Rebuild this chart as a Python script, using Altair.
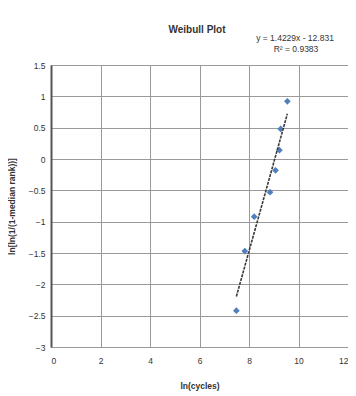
import altair as alt
import pandas as pd

# Data
ln_cycles = [7.49, 7.83, 8.21, 8.85, 9.07, 9.23, 9.28, 9.55]
lnln_rank = [-2.42, -1.47, -0.92, -0.53, -0.18, 0.14, 0.48, 0.92]
x_ticks = [0, 2, 4, 6, 8, 10, 12]
y_ticks = [-3, -2.5, -2, -1.5, -1, -0.5, 0, 0.5, 1, 1.5]
eq_lines = ["y = 1.4229x - 12.831", "R² = 0.9383"]
chart_title = "Weibull Plot"

df = pd.DataFrame({"x": ln_cycles, "y": lnln_rank})

FONT = "Liberation Sans"

xscale = alt.Scale(domain=[0, 12], nice=False, zero=False)
yscale = alt.Scale(domain=[-3, 1.5], nice=False, zero=False)

xaxis = alt.Axis(
    values=x_ticks,
    format="~g",
    title="ln(cycles)",
    titleY=38,
    titleBaseline="middle",
    labelPadding=9,
    labelOverlap=False,
)
yaxis = alt.Axis(
    values=y_ticks,
    format="~g",
    title="ln[ln(1/(1-median rank))]",
    titleX=-40,
    titleY=141,
    titleAngle=-90,
    titleAlign="center",
    titleBaseline="middle",
    labelPadding=6,
    labelFlush=False,
    labelOverlap=False,
)

base = alt.Chart(df)

points = base.mark_point(
    shape="diamond", filled=True, size=45, color="#4F7FBD", opacity=1
).encode(
    x=alt.X("x:Q", scale=xscale, axis=xaxis),
    y=alt.Y("y:Q", scale=yscale, axis=yaxis),
)

trend = base.transform_regression("x", "y").mark_line(
    color="#3a3a3a", strokeWidth=1.6, strokeDash=[3, 1]
).encode(
    x=alt.X("x:Q", scale=xscale, axis=xaxis),
    y=alt.Y("y:Q", scale=yscale, axis=yaxis),
)

title_df = pd.DataFrame({"t": [chart_title]})
title_text = alt.Chart(title_df).mark_text(
    font=FONT, fontSize=10, fontWeight="bold", color="#333333",
    align="center", baseline="middle",
).encode(text="t:N", x=alt.value(146), y=alt.value(-35))

eq1 = alt.Chart(pd.DataFrame({"t": [eq_lines[0]]})).mark_text(
    font=FONT, fontSize=8.5, color="#333333", align="center", baseline="middle"
).encode(text="t:N", x=alt.value(244), y=alt.value(-27))

eq2 = alt.Chart(pd.DataFrame({"t": [eq_lines[1]]})).mark_text(
    font=FONT, fontSize=8.5, color="#333333", align="center", baseline="middle"
).encode(text="t:N", x=alt.value(245), y=alt.value(-16))

chart = (
    alt.layer(points, trend, title_text, eq1, eq2)
    .properties(
        width=297,
        height=282,
        autosize=alt.AutoSizeParams(type="none"),
        padding={"left": 43, "top": 57, "right": 0, "bottom": 45},
        background="white",
    )
    .configure_view(stroke="#999999", strokeWidth=1)
    .configure_axis(
        labelFont=FONT,
        titleFont=FONT,
        labelFontSize=8.5,
        titleFontSize=8.5,
        titleFontWeight="bold",
        labelColor="#333333",
        titleColor="#333333",
        gridColor="#9a9a9a",
        gridWidth=1,
        gridOpacity=1,
        ticks=False,
        domainColor="#999999",
        domainWidth=1,
    )
    .configure_axisY(domainColor="#555555", domainWidth=2)
)

chart.save("out.html", embed_options={"renderer": "svg", "actions": False})
